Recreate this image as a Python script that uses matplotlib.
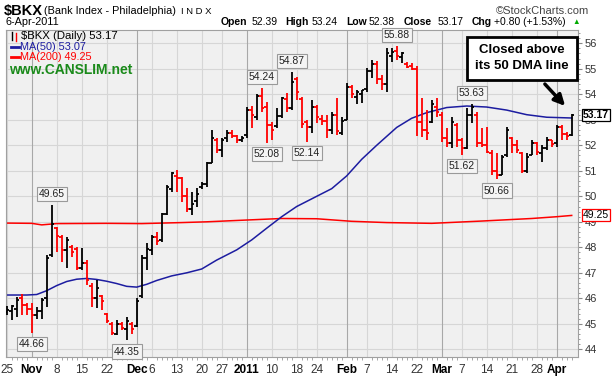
import matplotlib
matplotlib.use("Agg")

import matplotlib.pyplot as plt
from matplotlib.lines import Line2D
from matplotlib.patches import Rectangle

plt.rcParams['font.family'] = ['Liberation Sans', 'DejaVu Sans']

# daily bars, Oct 25 2010 .. Apr 6 2011 (one entry per trading day)
opens = [45.45, 45.5, 45.6, 46.0, 45.75, 45.6, 45.35, 45.5, 46.0, 47.7,
         48.75, 48.4, 47.9, 48.0, 47.95, 47.2, 47.4, 46.5, 46.0, 46.1,
         45.4, 45.0, 44.6, 45.0, 44.8, 45.0, 44.9, 46.1, 47.6, 47.9,
         48.4, 48.3, 49.3, 50.3, 50.8, 50.7, 50.0, 49.5, 49.8, 50.35,
         50.5, 51.3, 52.2, 51.8, 52.3, 52.5, 52.35, 52.2, 52.4, 53.4,
         53.1, 53.95, 53.5, 52.8, 52.75, 53.15, 53.8, 53.45, 54.6, 53.8,
         52.9, 52.7, 53.5, 53.05, 52.95, 52.6, 53.2, 52.5, 53.0, 54.3,
         53.9, 54.0, 54.2, 54.9, 55.2, 54.6, 54.4, 55.5, 55.7, 55.45,
         55.2, 55.1, 55.0, 52.9, 52.6, 52.9, 53.5, 53.2, 52.3, 52.1,
         52.8, 52.2, 51.9, 53.2, 53.2, 52.1, 52.0, 51.7, 51.0, 50.85,
         51.6, 52.3, 52.0, 51.7, 51.0, 51.6, 52.1, 51.7, 51.9, 52.2,
         52.1, 52.7, 52.45, 52.39]
highs = [45.7, 45.74, 46.06, 46.17, 45.8, 45.8, 45.67, 46.0, 47.7, 49.65,
         48.81, 48.48, 48.42, 48.09, 48.02, 47.96, 47.5, 46.59, 46.72, 46.13,
         45.41, 45.08, 45.15, 45.08, 45.28, 45.08, 46.0, 47.7, 48.15, 48.5,
         48.61, 49.33, 50.44, 50.97, 51.03, 50.77, 50.31, 50.18, 50.31, 50.57,
         51.36, 52.6, 52.27, 52.27, 52.6, 52.6, 52.4, 52.35, 53.52, 53.55,
         54.0, 54.24, 53.7, 52.93, 53.45, 53.91, 54.04, 54.87, 54.69, 53.9,
         52.99, 53.77, 53.58, 53.19, 53.19, 53.32, 53.84, 53.1, 54.45, 54.37,
         54.17, 54.17, 55.02, 55.34, 55.3, 54.75, 55.8, 55.8, 55.88, 55.67,
         55.25, 55.21, 55.1, 53.84, 53.38, 53.77, 53.84, 53.3, 52.66, 53.12,
         52.86, 52.27, 53.45, 53.63, 53.32, 52.66, 52.73, 51.81, 51.68, 51.62,
         52.73, 52.34, 52.21, 51.75, 51.68, 52.21, 52.14, 52.01, 52.34, 52.21,
         52.8, 52.8, 52.53, 53.24]
lows = [45.35, 45.15, 45.28, 45.34, 45.34, 44.66, 45.19, 45.2, 45.67, 47.63,
        47.83, 47.44, 47.17, 47.63, 47.11, 47.11, 46.52, 45.67, 45.61, 45.54,
        45.02, 44.56, 44.56, 44.76, 44.35, 44.62, 44.89, 46.0, 47.1, 47.7,
        48.1, 48.2, 49.27, 50.18, 50.18, 49.79, 49.4, 49.27, 49.6, 50.3,
        50.38, 51.29, 51.69, 51.56, 52.14, 52.27, 52.08, 52.12, 52.27, 52.67,
        52.99, 53.3, 52.08, 52.2, 52.67, 53.06, 53.3, 53.38, 53.77, 52.66,
        52.14, 52.5, 52.86, 52.8, 52.3, 52.45, 52.4, 52.4, 52.99, 53.84,
        53.6, 53.64, 54.1, 54.62, 54.4, 54.17, 54.1, 55.28, 55.34, 55.21,
        55.02, 54.95, 52.35, 52.34, 52.21, 52.86, 53.1, 52.14, 51.94, 51.88,
        51.94, 51.62, 51.85, 52.86, 51.94, 51.94, 51.68, 50.83, 50.66, 50.83,
        51.55, 51.68, 51.68, 50.9, 50.9, 51.6, 51.62, 51.36, 51.81, 51.94,
        51.94, 52.2, 52.2, 52.38]
closes = [45.55, 45.68, 45.95, 45.75, 45.6, 45.35, 45.5, 45.95, 47.6, 48.9,
          48.45, 47.9, 48.3, 47.8, 47.2, 47.4, 46.7, 46.0, 46.4, 45.9,
          45.1, 44.65, 45.0, 44.85, 45.1, 44.8, 45.9, 47.6, 47.95, 48.4,
          48.25, 49.3, 50.35, 50.9, 50.7, 50.0, 49.5, 49.7, 50.1, 50.5,
          51.3, 52.27, 51.82, 52.2, 52.5, 52.35, 52.2, 52.3, 53.4, 53.19,
          53.95, 53.45, 52.8, 52.6, 53.15, 53.85, 53.45, 54.5, 54.1, 52.85,
          52.7, 53.5, 53.1, 52.95, 52.6, 53.2, 52.55, 52.95, 54.3, 54.0,
          54.1, 54.15, 54.9, 55.2, 54.6, 54.4, 55.6, 55.65, 55.5, 55.6,
          55.05, 55.0, 52.9, 52.6, 52.5, 53.6, 53.3, 52.3, 52.1, 52.9,
          52.2, 51.9, 53.2, 53.5, 52.1, 52.0, 51.75, 51.0, 50.85, 51.55,
          52.6, 52.0, 51.8, 51.0, 51.55, 52.1, 51.75, 51.9, 52.2, 52.05,
          52.7, 52.45, 52.37, 53.17]

# moving averages at selected days
ma50_days = [0, 4, 6, 8, 10, 12, 14, 16, 18, 20, 22, 24, 26, 28, 30, 33, 36, 39, 42, 46,
             49, 52, 55, 58, 62, 65, 68, 71, 74, 76, 78, 81, 84, 88, 92, 96, 100, 104, 108, 113]
ma50_vals = [46.13, 46.13, 46.15, 46.3, 46.5, 46.66, 46.75, 46.78, 46.74, 46.67, 46.58, 46.47,
             46.44, 46.55, 46.7, 46.88, 47.0, 47.15, 47.5, 47.9, 48.29, 48.75, 49.2, 49.6,
             50.0, 50.3, 50.8, 51.45, 52.0, 52.35, 52.7, 53.06, 53.28, 53.48, 53.54, 53.5,
             53.38, 53.2, 53.1, 53.07]
ma200_days = [0, 5, 7, 10, 20, 27, 35, 40, 48, 55, 62, 69, 76, 85, 95, 105, 110, 113]
ma200_vals = [48.95, 48.94, 48.88, 48.93, 48.94, 48.93, 48.97, 49.0, 49.07, 49.13, 49.12,
              49.02, 48.97, 48.94, 49.03, 49.13, 49.2, 49.25]

tick_days = [0, 5, 10, 15, 20, 26, 29, 34, 39, 43, 48, 53, 58, 62, 68, 72, 77, 82, 87, 91,
             96, 101, 106, 110]
tick_labels = ["25", "Nov", "8", "15", "22", "Dec", "6", "13", "20", "27", "2011", "10", "18",
               "24", "Feb", "7", "14", "22", "Mar", "7", "14", "21", "28", "Apr"]
month_labels = ["Nov", "Dec", "2011", "Feb", "Mar", "Apr"]

# labelled swing points
peak_days = [9, 51, 57, 78, 93]
peak_vals = [49.65, 54.24, 54.87, 55.88, 53.63]
trough_days = [5, 24, 52, 60, 91, 98]
trough_vals = [44.66, 44.35, 52.08, 52.14, 51.62, 50.66]

W, H = 615, 378
fig = plt.figure(figsize=(W / 100, H / 100), dpi=100)
ax = fig.add_axes([6 / W, 1 - 357 / H, 572 / W, 327 / H])
ax.set_facecolor('#f0f0f0')
ax.set_xlim(-0.14, 114.26)
ax.set_ylim(43.70, 56.52)

# grid
for v in range(44, 57):
    ax.axhline(v, color='#d6d6d6', lw=0.8, zorder=0)
for d, lab in zip(tick_days, tick_labels):
    c = '#a8a8a8' if lab in month_labels else '#d6d6d6'
    ax.axvline(d, color=c, lw=0.8, zorder=0)

# moving averages
ax.plot(ma200_days, ma200_vals, color='#ff0000', lw=1.1, zorder=2)
ax.plot(ma50_days, ma50_vals, color='#1c1ca0', lw=1.1, zorder=2)

# OHLC bars
days = list(range(len(closes)))
prev = [opens[0]] + closes[:-1]
cols = ['black' if c >= p else '#ff0000' for c, p in zip(closes, prev)]
ax.vlines(days, lows, highs, colors=cols, lw=1.3, zorder=3)
ax.hlines(opens, [d - 0.5 for d in days], days, colors=cols, lw=1.3, zorder=3)
ax.hlines(closes, days, [d + 0.5 for d in days], colors=cols, lw=1.3, zorder=3)

box = dict(boxstyle='square,pad=0.2', fc='#f4f4f4', ec='#9a9a9a', lw=0.8)
for d, v in zip(peak_days, peak_vals):
    ax.annotate(f"{v:.2f}", (d, v), xytext=(0, 8), textcoords='offset points',
                ha='center', va='center', fontsize=7.5, color='#222222', bbox=box, zorder=5)
for d, v in zip(trough_days, trough_vals):
    ax.annotate(f"{v:.2f}", (d, v), xytext=(0, -8), textcoords='offset points',
                ha='center', va='center', fontsize=7.5, color='#222222', bbox=box, zorder=5)

# axes styling
for s in ax.spines.values():
    s.set_color('#a0a0a0')
    s.set_linewidth(0.8)
ax.yaxis.tick_right()
ax.set_yticks(range(44, 57))
ax.set_yticks([v / 5 for v in range(220, 283)], minor=True)
ax.tick_params(axis='y', which='major', length=3, color='#888888', labelsize=8,
               labelcolor='#333333', pad=2)
ax.tick_params(axis='y', which='minor', length=1.5, color='#888888')
ax.set_xticks(tick_days)
ax.set_xticklabels(tick_labels)
ax.set_xticks(days, minor=True)
ax.tick_params(axis='x', which='major', length=0, labelsize=8.5, pad=5, labelcolor='#333333')
ax.tick_params(axis='x', which='minor', length=2, color='#999999')
for t in ax.get_xticklabels():
    if t.get_text() in month_labels:
        t.set_fontweight('bold')
        t.set_color('black')

# last-value tags on the right axis
ax.text(115.2, closes[-1], f"{closes[-1]:.2f}", fontsize=7.5, fontweight='bold', va='center',
        ha='left', clip_on=False, zorder=6,
        bbox=dict(boxstyle='square,pad=0.1', fc='white', ec='black', lw=0.9))
ax.text(115.2, ma200_vals[-1], f"{ma200_vals[-1]:.2f}", fontsize=7.5, va='center', ha='left',
        clip_on=False, zorder=6,
        bbox=dict(boxstyle='square,pad=0.1', fc='white', ec='#ff0000', lw=0.9))


def px(x, y):
    return x / W, 1 - y / H


# header
fig.text(*px(4, 11), "$BKX", fontsize=10.5, fontweight='bold', va='center')
fig.text(*px(44, 11), "(Bank Index - Philadelphia)", fontsize=7.8, va='center')
fig.text(*px(181, 11), "I N D X", fontsize=6.8, va='center')
fig.text(*px(496, 11), "\u00a9StockCharts.com", fontsize=8, va='center', color='#444444')
fig.text(*px(5, 22), "6-Apr-2011", fontsize=7.8, va='center')
hdr = [(221, "Open", True), (252, "52.39", False), (285, "High", True), (312, "53.24", False),
       (346, "Low", True), (369, "52.38", False), (404, "Close", True), (438, "53.17", False),
       (472, "Chg", True), (494, "+0.80 (+1.53%)", False)]
for x, s, b in hdr:
    fig.text(*px(x, 22), s, fontsize=7.5, va='center', fontweight='bold' if b else 'normal')
fig.text(*px(576, 22), "\u25b2", fontsize=5.5, va='center', ha='center', color='#00aa00')

# legend inside the plot
fig.add_artist(Line2D([12 / W, 12 / W], [1 - 32 / H, 1 - 40 / H], color='black', lw=1))
fig.add_artist(Line2D([16 / W, 16 / W], [1 - 33 / H, 1 - 41 / H], color='#ff0000', lw=1))
fig.text(*px(21, 36), "$BKX (Daily) 53.17", fontsize=8.2, va='center')
fig.add_artist(Line2D([11 / W, 19 / W], [1 - 47 / H] * 2, color='#1c1ca0', lw=2))
fig.text(*px(20, 47), "MA(50) 53.07", fontsize=7.8, va='center', color='#1c1ca0')
fig.add_artist(Line2D([11 / W, 19 / W], [1 - 57 / H] * 2, color='#ff0000', lw=2))
fig.text(*px(20, 57), "MA(200) 49.25", fontsize=7.8, va='center', color='#ff0000')
fig.text(*px(9, 70), "www.CANSLIM.net", fontsize=10, fontweight='bold', va='center',
         color='#1a8a1a')

# callout
fig.add_artist(Rectangle(px(467, 80), 110 / W, 43 / H, transform=fig.transFigure,
                         fc='white', ec='black', lw=2, zorder=7))
fig.text(*px(522, 58), "Closed above\nits 50 DMA line", fontsize=9.5, fontweight='bold',
         ha='center', va='center', linespacing=1.35, zorder=8)
ax.annotate('', xy=(567, H - 108), xytext=(543, H - 82), xycoords='figure pixels',
            textcoords='figure pixels',
            arrowprops=dict(arrowstyle='-|>', lw=2.5, color='black', mutation_scale=16))

fig.savefig("out.png", dpi=100)
